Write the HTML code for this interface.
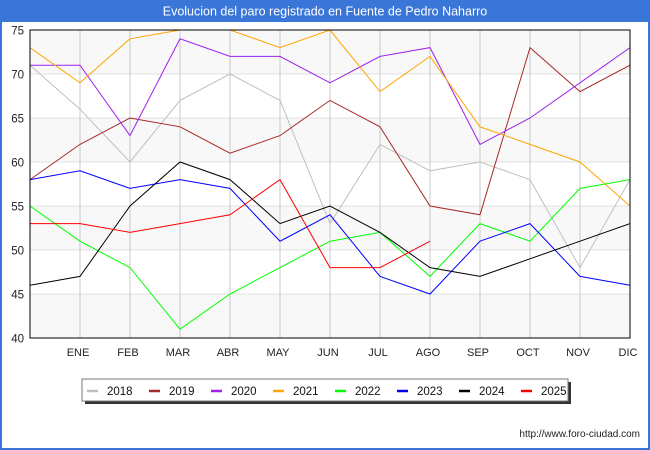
<!DOCTYPE html>
<html><head><meta charset="utf-8"><style>
body{margin:0;background:#fff;}
svg{display:block;font-family:"Liberation Sans","DejaVu Sans",sans-serif;}
</style></head><body>
<svg id="chart" width="650" height="450" viewBox="0 0 650 450">
<rect x="0" y="0" width="650" height="450" fill="#3a75d8"/>
<rect x="2" y="22" width="646" height="426" fill="#ffffff"/>
<text x="325" y="15.5" text-anchor="middle" font-size="12.5" fill="#ffffff">Evolucion del paro registrado en Fuente de Pedro Naharro</text>
<g id="bands"></g><g id="grid"></g><g id="series"></g>
<rect x="30" y="30" width="600" height="308" fill="none" stroke="#000" stroke-width="1"/>
<g id="ylabels"></g><g id="xlabels"></g>
<rect x="85" y="382" width="486" height="22" fill="#333"/>
<rect x="82" y="379" width="486" height="22" fill="#fff" stroke="#777"/>
<g id="legend"></g>
<text x="640" y="437" text-anchor="end" font-size="10" fill="#222">http://www.foro-ciudad.com</text>
</svg>
<script>
const months = ["","ENE","FEB","MAR","ABR","MAY","JUN","JUL","AGO","SEP","OCT","NOV","DIC"];
const yTicks = [40,45,50,55,60,65,70,75];
const years = ["2018","2019","2020","2021","2022","2023","2024","2025"];
const colors = ["#c0c0c0","#a52a2a","#a020f0","#ffa500","#00ff00","#0000ff","#000000","#ff0000"];
const s2018 = [71,66,60,67,70,67,53,62,59,60,58,48,58];
const s2019 = [58,62,65,64,61,63,67,64,55,54,73,68,71];
const s2020 = [71,71,63,74,72,72,69,72,73,62,65,69,73];
const s2021 = [73,69,74,75,75,73,75,68,72,64,62,60,55];
const s2022 = [55,51,48,41,45,48,51,52,47,53,51,57,58];
const s2023 = [58,59,57,58,57,51,54,47,45,51,53,47,46];
const s2024 = [46,47,55,60,58,53,55,52,48,47,49,51,53];
const s2025 = [53,53,52,53,54,58,48,48,51];
const seriesList = [s2018,s2019,s2020,s2021,s2022,s2023,s2024,s2025];
const NS="http://www.w3.org/2000/svg";
const X0=30,X1=630,Y0=338,Y1=30,YMIN=40,YMAX=75;
function xs(i){return X0+i*(X1-X0)/(months.length-1);}
function ys(v){return Y0-(v-YMIN)*(Y0-Y1)/(YMAX-YMIN);}
function mk(tag,attrs,parent){const e=document.createElementNS(NS,tag);for(const k in attrs)e.setAttribute(k,attrs[k]);document.getElementById(parent).appendChild(e);return e;}
for(let i=0;i<yTicks.length-1;i++){
  const r=mk("rect",{x:X0,y:ys(yTicks[i+1]),width:X1-X0,height:ys(yTicks[i])-ys(yTicks[i+1]),fill:(i%2===0)?"#f8f8f8":"#ffffff"},"bands");
  
  
}
yTicks.forEach(v=>{
  const l=mk("line",{x1:X0,x2:X1,y1:ys(v),y2:ys(v),stroke:"#e0e0e0","stroke-width":1},"grid");
  
  
  const t=mk("text",{x:24,y:ys(v)+4.5,"text-anchor":"end","font-size":"11.5",fill:"#222"},"ylabels");
  t.textContent=v;
  
  
});
months.forEach((m,i)=>{
  if(i>0){
    const l=mk("line",{x1:xs(i),x2:xs(i),y1:Y1,y2:Y0,stroke:"#c8c8c8","stroke-width":1},"grid");
    
    
  }
  const t=mk("text",{x:xs(i)-2,y:356,"text-anchor":"middle","font-size":"11",fill:"#222"},"xlabels");
  t.textContent=m;
  
  
});
const clip=mk("clipPath",{id:"pc"},"series");
mk("rect",{x:X0,y:Y1,width:X1-X0,height:Y0-Y1},"pc");
seriesList.forEach((s,k)=>{
  const pts=s.map((v,i)=>xs(i)+","+ys(v)).join(" ");
  const p=mk("polyline",{points:pts,fill:"none",stroke:colors[k],"stroke-width":1,"clip-path":"url(#pc)"},"series");
  
  
});
years.forEach((y,k)=>{
  const lx=87+k*62;
  const l=mk("line",{x1:lx,x2:lx+11,y1:391,y2:391,stroke:colors[k],"stroke-width":2.5},"legend");
  
  
  const t=mk("text",{x:lx+20,y:395,"font-size":"11.5",fill:"#111"},"legend");
  t.textContent=y;
  
  
});
</script>
</body></html>
